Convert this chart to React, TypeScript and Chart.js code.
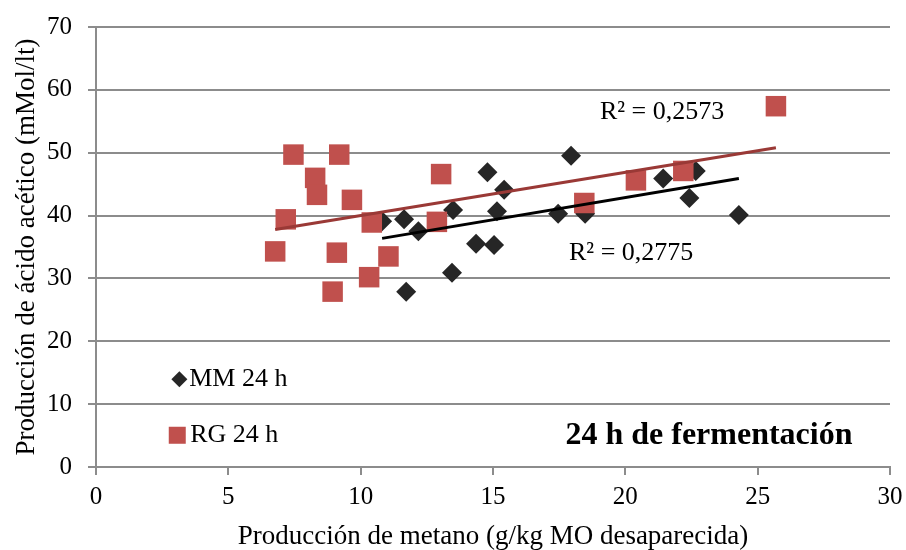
import { useEffect, useRef } from 'react';
import { Chart, registerables } from 'chart.js';

Chart.register(...registerables);

const seriesLabels = ['MM 24 h', 'RG 24 h'];
const mmX = [10.81, 11.64, 12.18, 11.72, 13.49, 13.45, 14.36, 15.04, 14.79, 15.15, 15.42, 17.46, 17.95, 18.48, 21.43, 22.42, 22.66, 24.29];
const mmY = [39.1, 39.4, 37.5, 27.9, 40.9, 30.9, 35.5, 35.3, 46.9, 40.7, 44.1, 40.3, 49.5, 40.3, 45.9, 42.8, 47.1, 40.1];
const rgX = [6.77, 7.17, 7.46, 8.28, 8.35, 8.94, 9.1, 9.19, 9.67, 10.32, 10.42, 11.05, 12.88, 13.04, 18.45, 20.4, 22.19, 25.69];
const rgY = [34.3, 39.4, 49.7, 46.0, 43.3, 27.9, 34.1, 49.7, 42.5, 30.2, 38.9, 33.5, 39.0, 46.6, 42.0, 45.6, 47.1, 57.4];
const r2Labels = ['R² = 0,2775', 'R² = 0,2573'];
const noteText = '24 h de fermentación';
const xTitle = 'Producción de metano (g/kg MO desaparecida)';
const yTitle = 'Producción de ácido acético (mMol/lt)';

const FONT = "'Liberation Serif', 'Times New Roman', serif";
const MM_COLOR = '#262626';
const RG_COLOR = '#C0504D';
const RG_LINE = '#9A3936';
const GRID = '#8c8c8c';

function fitLine(xs: number[], ys: number[]) {
  const n = xs.length;
  const mx = xs.reduce((a, b) => a + b, 0) / n;
  const my = ys.reduce((a, b) => a + b, 0) / n;
  let sxy = 0, sxx = 0;
  for (let i = 0; i < n; i++) {
    sxy += (xs[i] - mx) * (ys[i] - my);
    sxx += (xs[i] - mx) * (xs[i] - mx);
  }
  const b = sxy / sxx;
  const a = my - b * mx;
  const x0 = Math.min(...xs);
  const x1 = Math.max(...xs);
  return [{ x: x0, y: a + b * x0 }, { x: x1, y: a + b * x1 }];
}

const overlayPlugin = {
  id: 'overlay',
  afterDatasetsDraw(chart: any) {
    const { ctx, scales } = chart;
    const xs = scales.x;
    const ys = scales.y;
    const px = (v: number) => xs.getPixelForValue(v);
    const py = (v: number) => ys.getPixelForValue(v);
    ctx.save();
    ctx.fillStyle = '#000';
    ctx.textBaseline = 'middle';
    ctx.textAlign = 'center';
    ctx.font = `26px ${FONT}`;
    ctx.fillText(r2Labels[1], px(21.39), py(56.5));
    ctx.fillText(r2Labels[0], px(20.22), py(34.0));
    ctx.font = `bold 32px ${FONT}`;
    ctx.fillText(noteText, px(23.16), py(4.9));

    // legend
    ctx.textAlign = 'left';
    ctx.font = `26px ${FONT}`;
    const dx = px(3.15), dy = py(13.95);
    ctx.fillStyle = MM_COLOR;
    ctx.beginPath();
    ctx.moveTo(dx, dy - 8);
    ctx.lineTo(dx + 8, dy);
    ctx.lineTo(dx, dy + 8);
    ctx.lineTo(dx - 8, dy);
    ctx.closePath();
    ctx.fill();
    ctx.fillStyle = '#000';
    ctx.fillText(seriesLabels[0], px(3.52), dy);
    const sx = px(3.07), sy = py(5.05);
    ctx.fillStyle = RG_COLOR;
    ctx.fillRect(sx - 8.5, sy - 8.5, 17, 17);
    ctx.fillStyle = '#000';
    ctx.fillText(seriesLabels[1], px(3.56), sy);
    ctx.restore();
  },
};

export default function App() {
  const ref = useRef<HTMLCanvasElement | null>(null);
  useEffect(() => {
    if (!ref.current) return;
    Chart.defaults.font.family = FONT;
    Chart.defaults.color = '#000';
    const mmPts = mmX.map((x, i) => ({ x, y: mmY[i] }));
    const rgPts = rgX.map((x, i) => ({ x, y: rgY[i] }));
    const chart = new Chart(ref.current, {
      type: 'scatter',
      data: {
        datasets: [
          {
            label: 'trend RG',
            data: fitLine(rgX, rgY),
            showLine: true,
            borderColor: RG_LINE,
            borderWidth: 3,
            pointRadius: 0,
            order: 0,
          },
          {
            label: 'trend MM',
            data: fitLine(mmX, mmY),
            showLine: true,
            borderColor: '#000',
            borderWidth: 3,
            pointRadius: 0,
            order: 1,
          },
          {
            label: seriesLabels[1],
            data: rgPts,
            pointStyle: 'rect',
            pointRadius: 14.5,
            backgroundColor: RG_COLOR,
            borderColor: RG_COLOR,
            borderWidth: 0,
            order: 2,
          },
          {
            label: seriesLabels[0],
            data: mmPts,
            pointStyle: 'rectRot',
            pointRadius: 10,
            backgroundColor: MM_COLOR,
            borderColor: MM_COLOR,
            borderWidth: 0,
            order: 3,
          },
        ],
      },
      options: {
        animation: false,
        responsive: true,
        maintainAspectRatio: false,
        layout: { padding: { top: 27, right: 16, left: 0, bottom: 0 } },
        plugins: { legend: { display: false }, tooltip: { enabled: false } },
        scales: {
          x: {
            type: 'linear',
            min: 0,
            max: 30,
            afterFit: (s: any) => { s.height = 83; s.paddingLeft = 0; s.paddingRight = 0; },
            ticks: { stepSize: 5, font: { size: 25 }, color: '#000', padding: 7 },
            grid: { drawOnChartArea: false, drawTicks: true, tickLength: 8, color: GRID, lineWidth: 2 },
            border: { display: true, color: GRID, width: 2 },
            title: { display: true, text: xTitle, font: { size: 27, lineHeight: 1.0 }, color: '#000', padding: { top: 0, bottom: 0 } },
          },
          y: {
            type: 'linear',
            min: 0,
            max: 70,
            afterFit: (s: any) => { s.width = 96; s.paddingTop = 0; s.paddingBottom = 0; },
            ticks: { stepSize: 10, font: { size: 25 }, color: '#000', padding: 16 },
            grid: { drawOnChartArea: true, drawTicks: true, tickLength: 8, color: GRID, lineWidth: 2 },
            border: { display: true, color: GRID, width: 2 },
            title: { display: true, text: yTitle, font: { size: 27 }, color: '#000', padding: { top: 11, bottom: 0 } },
          },
        },
      },
      plugins: [overlayPlugin],
    });
    return () => chart.destroy();
  }, []);
  return (
    <div style={{ position: 'fixed', left: 0, top: 0, width: 906, height: 550, background: '#fff' }}>
      <canvas ref={ref} />
    </div>
  );
}
